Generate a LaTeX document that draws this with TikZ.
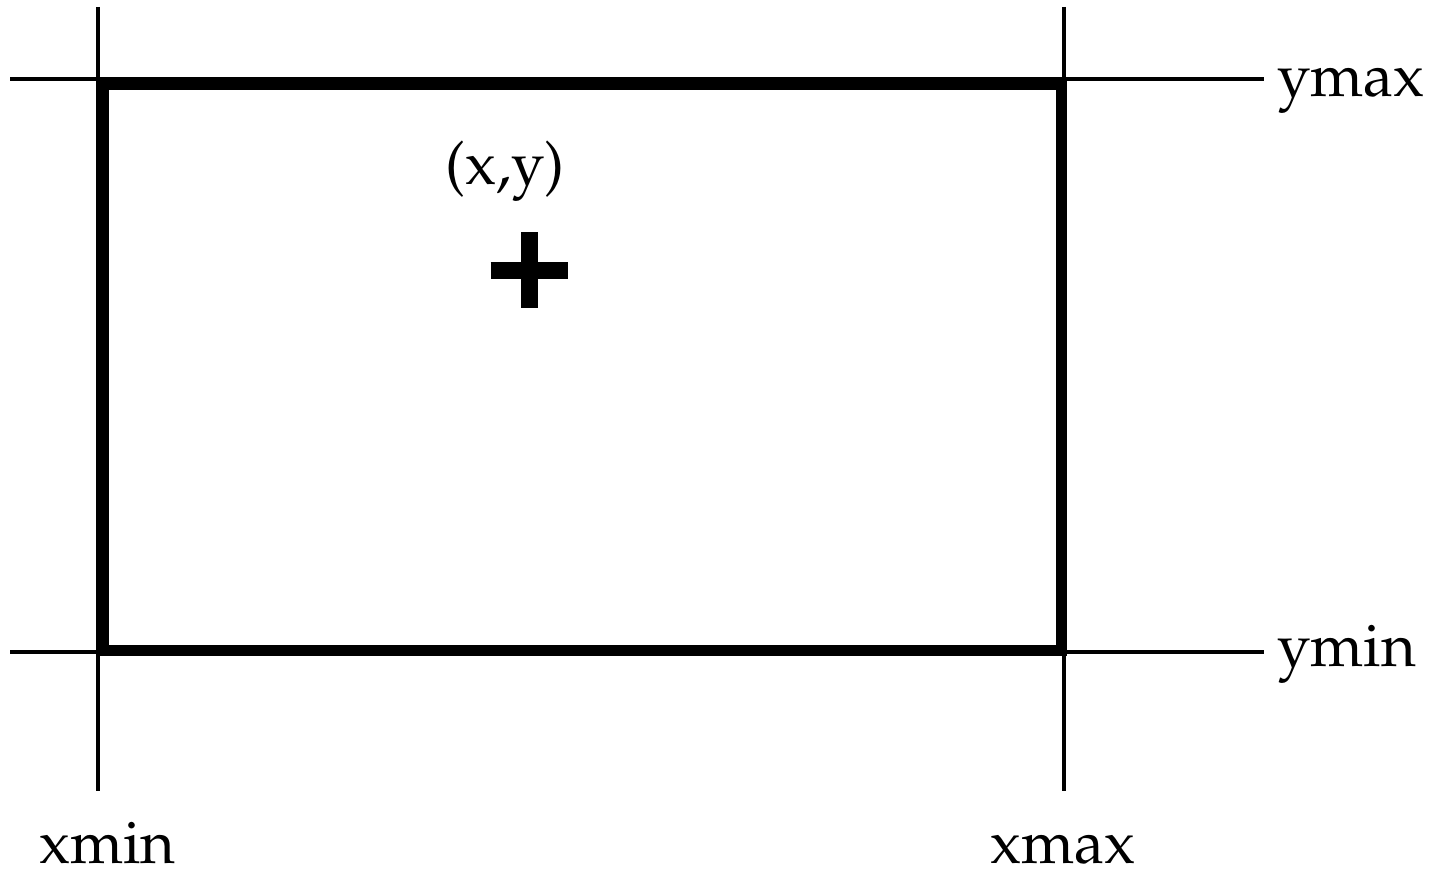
\documentclass[tikz,border=0pt]{standalone}
\usepackage[T1]{fontenc}
\usepackage{mathpazo}
\tikzset{
  guide/.style={line width=4pt, black},
  bound/.style={line width=11pt, black, line join=miter},
  crossbar/.style={line width=17.5pt, black},
  lbl/.style={inner sep=0pt, anchor=base west, font=\fontsize{60}{72}\selectfont}
}
\begin{document}
\begin{tikzpicture}[x=1pt,y=-1pt]
\useasboundingbox (0,0) rectangle (1440,869);
% guide line end points
\coordinate (vlT) at (98,7);
\coordinate (vlB) at (98,791);
\coordinate (vrT) at (1064,7);
\coordinate (vrB) at (1064,791);
\coordinate (htL) at (10,79);
\coordinate (htR) at (1264,79);
\coordinate (hbL) at (10,652);
\coordinate (hbR) at (1264,652);
\draw[guide] (vlT) -- (vlB);
\draw[guide] (vrT) -- (vrB);
\draw[guide] (htL) -- (htR);
\draw[guide] (hbL) -- (hbR);
% bounding rectangle
\coordinate (rA) at (103,84.5);
\coordinate (rB) at (1061.3,650.5);
\draw[bound] (rA) rectangle (rB);
% point marker
\coordinate (cL) at (490.7,270.5);
\coordinate (cR) at (568.3,270.5);
\coordinate (cT) at (529.5,232);
\coordinate (cB) at (529.5,308);
\draw[crossbar] (cL) -- (cR);
\draw[crossbar] (cT) -- (cB);
% labels
\node[lbl] (ymax) at (1277,97) {ymax};
\node[lbl] (ymin) at (1277,666) {ymin};
\node[lbl] (xmin) at (39,863) {xmin};
\node[lbl] (xmax) at (990,863) {xmax};
\node[lbl] (pt) at (445,185) {(x,y)};
\end{tikzpicture}
\end{document}
